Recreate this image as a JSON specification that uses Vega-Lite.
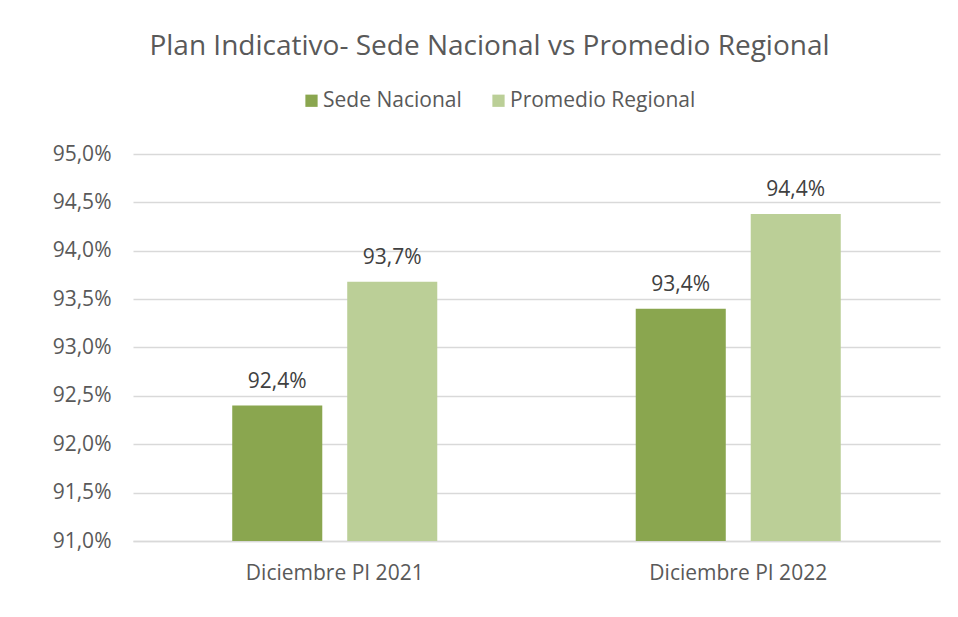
{
  "$schema": "https://vega.github.io/schema/vega-lite/v6.json",
  "width": 807,
  "height": 387,
  "autosize": {"type": "none"},
  "padding": {"left": 133, "top": 154, "right": 18, "bottom": 76},
  "background": "white",
  "title": {
    "text": "Plan Indicativo- Sede Nacional vs Promedio Regional",
    "font": "Open Sans",
    "fontSize": 28,
    "fontWeight": "normal",
    "color": "#595959",
    "anchor": "middle",
    "dx": -47,
    "offset": 29
  },
  "data": {
    "values": [
      {"periodo": "Diciembre PI 2021", "serie": "Sede Nacional", "valor": 0.924},
      {"periodo": "Diciembre PI 2021", "serie": "Promedio Regional", "valor": 0.9368},
      {"periodo": "Diciembre PI 2022", "serie": "Sede Nacional", "valor": 0.934},
      {"periodo": "Diciembre PI 2022", "serie": "Promedio Regional", "valor": 0.9438}
    ]
  },
  "encoding": {
    "x": {
      "field": "periodo",
      "type": "nominal",
      "scale": {"paddingInner": 0, "paddingOuter": 0},
      "axis": {
        "title": null,
        "labelAngle": 0,
        "ticks": false,
        "domain": true,
        "domainColor": "#d9d9d9",
        "domainWidth": 1.5,
        "labelPadding": 21,
        "labelFontSize": 21,
        "labelFont": "Open Sans",
        "labelColor": "#595959"
      }
    },
    "xOffset": {
      "field": "serie",
      "type": "nominal",
      "sort": ["Sede Nacional", "Promedio Regional"],
      "scale": {"paddingInner": 0.217, "paddingOuter": 0.863}
    },
    "y": {
      "field": "valor",
      "type": "quantitative",
      "scale": {"domain": [0.91, 0.95], "zero": false, "clamp": true},
      "axis": {
        "title": null,
        "format": ".1%",
        "values": [0.91, 0.915, 0.92, 0.925, 0.93, 0.935, 0.94, 0.945, 0.95],
        "ticks": false,
        "domain": false,
        "grid": true,
        "gridColor": "#d9d9d9",
        "gridWidth": 1.5,
        "labelPadding": 22,
        "labelFontSize": 21,
        "labelFont": "Open Sans",
        "labelColor": "#595959"
      }
    }
  },
  "layer": [
    {
      "mark": {"type": "bar"},
      "encoding": {
        "color": {
          "field": "serie",
          "type": "nominal",
          "sort": ["Sede Nacional", "Promedio Regional"],
          "scale": {"domain": ["Sede Nacional", "Promedio Regional"], "range": ["#8aa64f", "#bbcf97"]},
          "legend": {
            "title": null,
            "orient": "none",
            "legendX": 168,
            "legendY": -64,
            "direction": "horizontal",
            "symbolType": "square",
            "symbolSize": 150,
            "symbolStrokeWidth": 0,
            "labelFontSize": 21,
            "labelFont": "Open Sans",
            "labelColor": "#595959",
            "labelLimit": 400,
            "labelOffset": 1,
            "columnPadding": 26
          }
        }
      }
    },
    {
      "mark": {"type": "text", "baseline": "bottom", "dy": -14, "fontSize": 21, "font": "Open Sans", "color": "#404040"},
      "encoding": {
        "text": {"field": "valor", "type": "quantitative", "format": ".1%"}
      }
    }
  ],
  "config": {
    "locale": {
      "number": {"decimal": ",", "thousands": ".", "grouping": [3], "currency": ["", " €"]}
    },
    "view": {"stroke": null}
  }
}
